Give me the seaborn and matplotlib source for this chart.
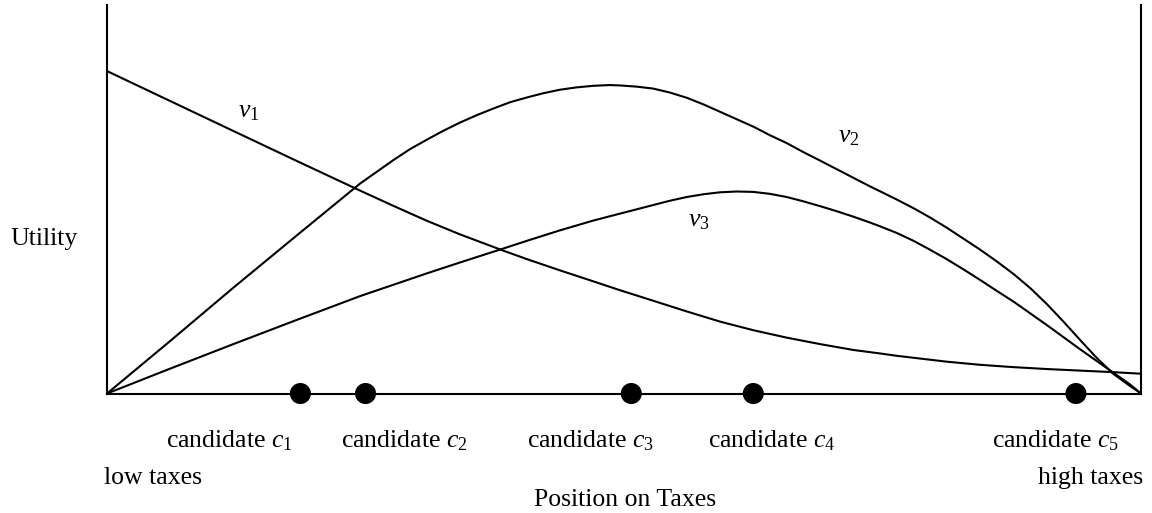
import pandas as pd
import matplotlib
matplotlib.use('Agg')
import matplotlib.pyplot as plt
import seaborn as sns

# позиция на шкале налогов (0 = низкие, 100 = высокие) и полезность избирателей
x_v1 = [0, 6.1, 12.2, 18.4, 24.5, 27.7, 30.9, 34.1, 38.3, 40.6, 43.8, 47.0, 49.6,
        52.8, 56.1, 59.3, 62.5, 65.7, 69.0, 72.2, 74.8, 76.4, 78.0, 79.6, 81.2,
        84.4, 87.6, 90.9, 94.1, 97.3, 100]
v1 = [83.0, 75.3, 67.6, 59.8, 52.2, 48.3, 44.5, 41.0, 36.8, 34.6, 31.7, 28.9, 26.6,
      23.9, 21.1, 18.5, 16.3, 14.4, 12.7, 11.2, 10.3, 9.7, 9.2, 8.7, 8.2,
      7.4, 6.8, 6.3, 5.9, 5.5, 5.1]

x_v2 = [0, 6.1, 12.2, 18.4, 24.5, 26.1, 27.7, 29.3, 30.9, 32.5, 34.1, 35.8, 37.4,
        39.0, 40.6, 42.2, 43.8, 45.4, 47.0, 48.6, 49.6, 51.2, 52.8, 54.4, 56.1,
        57.7, 59.3, 60.9, 62.5, 64.1, 65.7, 67.3, 69.0, 70.6, 72.2, 73.8, 74.8,
        76.4, 78.0, 79.6, 81.2, 82.8, 84.4, 86.0, 87.7, 89.3, 90.9, 92.5, 94.1,
        95.7, 97.3, 98.9, 100]
v2 = [0, 13.5, 27.2, 40.8, 54.1, 57.1, 60.1, 62.9, 65.3, 67.6, 69.7, 71.7, 73.4,
      75.0, 76.2, 77.3, 78.2, 78.8, 79.2, 79.4, 79.3, 79.0, 78.5, 77.5, 76.1,
      74.4, 72.5, 70.6, 68.7, 66.5, 64.5, 62.2, 59.9, 57.7, 55.5, 53.3, 52.0,
      49.9, 47.7, 45.3, 42.7, 39.9, 37.1, 34.1, 30.7, 27.1, 23.0, 18.5, 13.8,
      9.2, 5.1, 2.0, 0]

x_v3 = [0, 6.1, 12.2, 18.4, 24.5, 27.7, 30.9, 34.1, 38.3, 40.6, 43.8, 47.0, 49.6,
        51.2, 52.8, 54.4, 56.1, 57.7, 59.3, 60.9, 62.5, 64.1, 65.7, 67.3, 69.0,
        70.6, 72.2, 73.8, 74.8, 76.4, 78.0, 79.6, 81.2, 82.8, 84.4, 86.0, 87.7,
        89.3, 90.9, 92.5, 94.1, 95.7, 97.3, 98.9, 100]
v3 = [0, 6.4, 12.7, 19.0, 25.1, 28.0, 30.9, 33.7, 37.3, 39.3, 42.0, 44.5, 46.3,
      47.4, 48.5, 49.6, 50.6, 51.3, 51.8, 52.0, 51.9, 51.4, 50.6, 49.5, 48.2,
      46.9, 45.5, 44.0, 43.0, 41.3, 39.3, 37.0, 34.6, 32.0, 29.3, 26.5, 23.6,
      20.6, 17.6, 14.5, 11.4, 8.4, 5.4, 2.4, 0]

# кандидаты на оси
candidate_pos = [18.7, 25.0, 50.7, 62.5, 93.7]
candidate_labels = ['candidate $c_1$', 'candidate $c_2$', 'candidate $c_3$',
                    'candidate $c_4$', 'candidate $c_5$']

df = pd.DataFrame({
    'position': x_v1 + x_v2 + x_v3,
    'utility': v1 + v2 + v3,
    'voter': ['v1'] * len(v1) + ['v2'] * len(v2) + ['v3'] * len(v3),
})
cand = pd.DataFrame({'position': candidate_pos, 'utility': [0] * len(candidate_pos)})

sns.set_theme(style='white')
plt.rcParams['font.family'] = ['Liberation Serif', 'DejaVu Serif']
plt.rcParams['text.color'] = 'black'
plt.rcParams['mathtext.fontset'] = 'custom'
plt.rcParams['mathtext.rm'] = 'Liberation Serif'
plt.rcParams['mathtext.it'] = 'Liberation Serif:italic'

fig = plt.figure(figsize=(11.52, 5.13), dpi=100)
ax = fig.add_axes([0.0929, 0.2329, 0.8976, 0.7573])

sns.lineplot(data=df, x='position', y='utility', hue='voter', units='voter',
             estimator=None, sort=False, palette=['black'] * 3, linewidth=1.5,
             legend=False, ax=ax)
sns.scatterplot(data=cand, x='position', y='utility', color='black', s=230,
                edgecolor='none', zorder=5, clip_on=False, ax=ax)

ax.set_xlim(0, 100)
ax.set_ylim(0, 100)
ax.set_xticks([])
ax.set_yticks([])
ax.set_xlabel('')
ax.set_ylabel('')
for side in ['left', 'right', 'bottom']:
    ax.spines[side].set_color('black')
    ax.spines[side].set_linewidth(1.5)
ax.spines['top'].set_visible(False)

fs = 18.5
ax.text(12.7, 71.2, '$v_1$', fontsize=fs, va='baseline')
ax.text(70.7, 64.7, '$v_2$', fontsize=fs, va='baseline')
ax.text(56.2, 42.9, '$v_3$', fontsize=fs, va='baseline')

fig.text(0.0087, 0.5224, 'Utility', fontsize=fs, va='baseline')
for x, lab in zip([0.1441, 0.2960, 0.4575, 0.6146, 0.8611], candidate_labels):
    fig.text(x, 0.1287, lab, fontsize=fs, va='baseline')
fig.text(0.0903, 0.0565, 'low taxes', fontsize=fs, va='baseline')
fig.text(0.9922, 0.0565, 'high taxes', fontsize=fs, va='baseline', ha='right')
fig.text(0.5425, 0.0136, 'Position on Taxes', fontsize=fs, va='baseline', ha='center')

fig.savefig('out.png', dpi=100)
